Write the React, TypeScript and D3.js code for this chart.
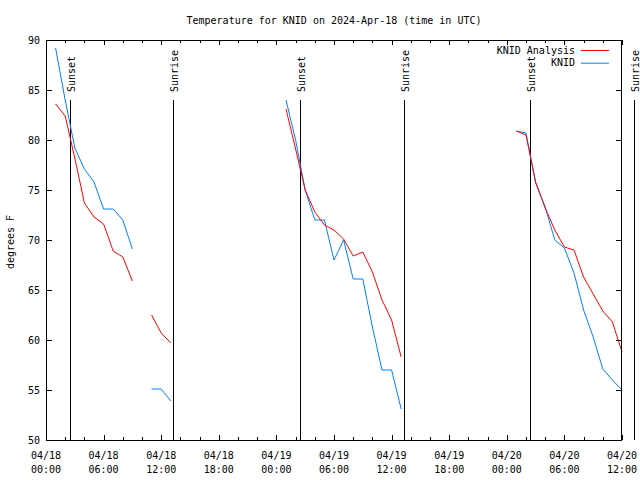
import React from "react";
import * as d3 from "d3";

// hourly values from 2024-04-18 00:00 UTC (index = hour), null = missing
const analysis: (number | null)[] = [
  null, 83.6, 82.4, 78.2, 73.7, 72.3, 71.6, 68.9, 68.3, 65.9, null, 62.5, 60.7, 59.7,
  null, null, null, null, null, null, null, null, null, null, null,
  83.1, 79.1, 75.0, 72.8, 71.5, 71.0, 70.1, 68.4, 68.8, 66.8, 64.0, 62.0, 58.3,
  null, null, null, null, null, null, null, null, null, null, null,
  80.9, 80.5, 75.8, 73.2, 71.0, 69.3, 69.0, 66.3, 64.6, 62.9, 61.8, 58.8,
];
const observed: (number | null)[] = [
  null, 89.2, 84.0, 79.2, 77.1, 75.8, 73.1, 73.1, 72.0, 69.1, null, 55.1, 55.1, 53.9,
  null, null, null, null, null, null, null, null, null, null, null,
  84.0, 80.0, 75.0, 72.0, 72.0, 68.0, 70.0, 66.1, 66.1, 61.3, 57.0, 57.0, 53.1,
  null, null, null, null, null, null, null, null, null, null, null,
  80.9, 80.7, 75.7, 73.3, 70.0, 69.2, 66.7, 63.0, 60.3, 57.1, 56.0, 55.0,
];
const sunEvents = [
  { label: "Sunset", hour: 2.47 },
  { label: "Sunrise", hour: 13.27 },
  { label: "Sunset", hour: 26.45 },
  { label: "Sunrise", hour: 37.27 },
  { label: "Sunset", hour: 50.45 },
  { label: "Sunrise", hour: 61.2 },
];
const xTickHours = [0, 6, 12, 18, 24, 30, 36, 42, 48, 54, 60];
const xTickDates = ["04/18", "04/18", "04/18", "04/18", "04/19", "04/19", "04/19", "04/19", "04/20", "04/20", "04/20"];
const xTickTimes = ["00:00", "06:00", "12:00", "18:00", "00:00", "06:00", "12:00", "18:00", "00:00", "06:00", "12:00"];
const yTicks = [50, 55, 60, 65, 70, 75, 80, 85, 90];
const seriesNames = ["KNID Analysis", "KNID"];
const seriesColors = ["#ff0000", "#0080ff"];

const FONT = "'DejaVu Sans Mono', monospace";

export default function App() {
  const W = 640, H = 480;
  const L = 46, R = 622, T = 40, B = 440;
  const x = d3.scaleLinear().domain([0, 60]).range([L, R]);
  const y = d3.scaleLinear().domain([50, 90]).range([B, T]);
  const line = d3
    .line<number | null>()
    .defined((d) => d != null)
    .x((_, i) => x(i))
    .y((d) => y(d as number));
  const minor = d3.range(0, 61, 2).filter((h) => h % 6 !== 0);
  return (
    <svg width={W} height={H} style={{ position: "absolute", left: 0, top: 0, background: "#fff" }} fontFamily={FONT}>
      <rect x={0} y={0} width={W} height={H} fill="#fff" />
      <text x={(L + R) / 2} y={24} textAnchor="middle" fontSize={10}>
        Temperature for KNID on 2024-Apr-18 (time in UTC)
      </text>
      {/* y ticks */}
      {yTicks.map((v) => (
        <g key={v}>
          <line x1={L + 0.5} x2={L + 6} y1={Math.round(y(v)) + 0.5} y2={Math.round(y(v)) + 0.5} stroke="#000" />
          <line x1={R - 0.5} x2={R - 6} y1={Math.round(y(v)) + 0.5} y2={Math.round(y(v)) + 0.5} stroke="#000" />
          <text x={40} y={y(v)} dy="0.35em" textAnchor="end" fontSize={10}>
            {v}
          </text>
        </g>
      ))}
      {/* x ticks */}
      {xTickHours.map((h, i) => (
        <g key={h}>
          <line x1={Math.round(x(h)) + 0.5} x2={Math.round(x(h)) + 0.5} y1={B} y2={B - 5} stroke="#000" />
          <line x1={Math.round(x(h)) + 0.5} x2={Math.round(x(h)) + 0.5} y1={T} y2={T + 5} stroke="#000" />
          <text x={x(h)} y={459} textAnchor="middle" fontSize={10}>
            {xTickDates[i]}
          </text>
          <text x={x(h)} y={473} textAnchor="middle" fontSize={10}>
            {xTickTimes[i]}
          </text>
        </g>
      ))}
      {minor.map((h) => (
        <g key={"m" + h}>
          <line x1={Math.round(x(h)) + 0.5} x2={Math.round(x(h)) + 0.5} y1={B} y2={B - 3} stroke="#000" />
          <line x1={Math.round(x(h)) + 0.5} x2={Math.round(x(h)) + 0.5} y1={T} y2={T + 3} stroke="#000" />
        </g>
      ))}
      <text transform={`translate(14,242) rotate(-90)`} textAnchor="middle" fontSize={10}>
        degrees F
      </text>
      {/* sun events */}
      {sunEvents.map((s, i) => {
        const sx = Math.round(x(s.hour)) + 0.5;
        return (
          <g key={i}>
            <line x1={sx} x2={sx} y1={100} y2={B} stroke="#000" />
            <text transform={`translate(${sx + 4.5},92) rotate(-90)`} fontSize={10}>
              {s.label}
            </text>
          </g>
        );
      })}
      {/* series */}
      <path d={line(observed) || ""} fill="none" stroke={seriesColors[1]} strokeWidth={1} />
      <path d={line(analysis) || ""} fill="none" stroke={seriesColors[0]} strokeWidth={1} />
      {/* frame */}
      <rect x={L + 0.5} y={T + 0.5} width={R - L - 1} height={B - T} fill="none" stroke="#000" />
      {/* legend */}
      {seriesNames.map((n, i) => (
        <g key={n}>
          <text x={575} y={50 + i * 12.7} dy="0.35em" textAnchor="end" fontSize={10}>
            {n}
          </text>
          <line x1={581} x2={609} y1={50.5 + i * 12.7} y2={50.5 + i * 12.7} stroke={seriesColors[i]} />
        </g>
      ))}
    </svg>
  );
}
